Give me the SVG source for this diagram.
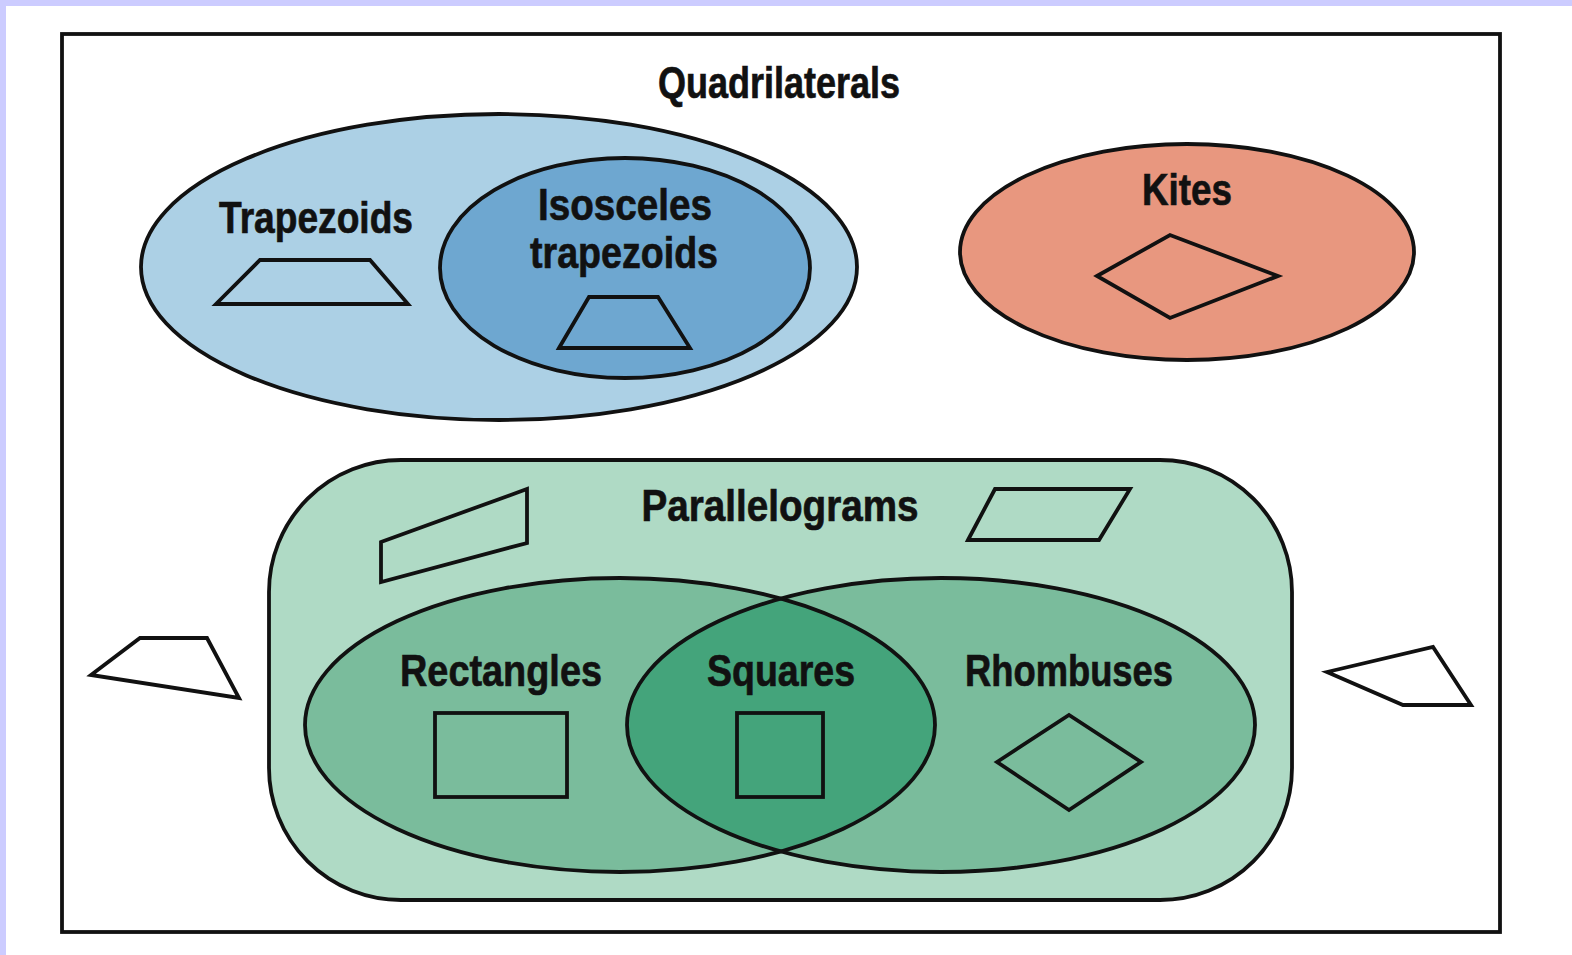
<svg xmlns="http://www.w3.org/2000/svg" width="1572" height="955" viewBox="0 0 1572 955">
<style>
.ln{stroke:#111;stroke-width:3.8;stroke-linejoin:miter}
.lbl{font-family:"Liberation Sans",Arial,sans-serif;font-weight:bold;font-size:45px;fill:#111;stroke:#111;stroke-width:0.7;text-anchor:middle}
</style>
<defs>
<clipPath id="clipR"><ellipse cx="941" cy="725" rx="314" ry="147"/></clipPath>
</defs>
<rect x="0" y="0" width="1572" height="955" fill="#ccccff"/>
<rect x="6" y="6" width="1566" height="949" fill="#ffffff"/>
<g id="quadrilaterals">
<rect x="62" y="34" width="1438" height="898" fill="#fff" class="ln"/>
<text class="lbl" x="779" y="98" textLength="242" lengthAdjust="spacingAndGlyphs">Quadrilaterals</text>
</g>
<g id="trapezoids">
<ellipse cx="499" cy="267" rx="358" ry="153" fill="#acd0e5" class="ln"/>
<text class="lbl" x="316" y="233" textLength="194" lengthAdjust="spacingAndGlyphs">Trapezoids</text>
<polygon points="216,304 260,260 370,260 408,304" fill="none" class="ln"/>
</g>
<g id="isosceles">
<ellipse cx="625" cy="268" rx="185" ry="110" fill="#6ea7d0" class="ln"/>
<text class="lbl" x="625" y="220" textLength="174" lengthAdjust="spacingAndGlyphs">Isosceles</text>
<text class="lbl" x="624" y="268" textLength="188" lengthAdjust="spacingAndGlyphs">trapezoids</text>
<polygon points="559,348 589,297 658,297 690,348" fill="none" class="ln"/>
</g>
<g id="kites">
<ellipse cx="1187" cy="252" rx="227" ry="108" fill="#e8977f" class="ln"/>
<text class="lbl" x="1187" y="205" textLength="90" lengthAdjust="spacingAndGlyphs">Kites</text>
<polygon points="1097,276 1170,235 1278,276 1170,318" fill="none" class="ln"/>
</g>
<g id="parallelograms">
<rect x="269" y="460" width="1023" height="440" rx="132" ry="132" fill="#afdac5" class="ln"/>
<text class="lbl" x="780" y="521" textLength="277" lengthAdjust="spacingAndGlyphs">Parallelograms</text>
<polygon points="381,542 527,489 527,543 381,582" fill="none" class="ln"/>
<polygon points="968,540 995,489 1130,489 1099,540" fill="none" class="ln"/>
</g>
<g id="rectangles">
<ellipse cx="620" cy="725" rx="315" ry="147" fill="#7abc9c"/>
</g>
<g id="rhombuses">
<ellipse cx="941" cy="725" rx="314" ry="147" fill="#7abc9c"/>
</g>
<g id="squares">
<ellipse cx="620" cy="725" rx="315" ry="147" fill="#44a47b" clip-path="url(#clipR)"/>
</g>
<g id="outlines">
<ellipse cx="620" cy="725" rx="315" ry="147" fill="none" class="ln"/>
<ellipse cx="941" cy="725" rx="314" ry="147" fill="none" class="ln"/>
</g>
<g id="rectangles-label">
<text class="lbl" x="501" y="686" textLength="202" lengthAdjust="spacingAndGlyphs">Rectangles</text>
<rect x="435" y="713" width="132" height="84" fill="none" class="ln"/>
</g>
<g id="squares-label">
<text class="lbl" x="781" y="686" textLength="148" lengthAdjust="spacingAndGlyphs">Squares</text>
<rect x="737" y="713" width="86" height="84" fill="none" class="ln"/>
</g>
<g id="rhombuses-label">
<text class="lbl" x="1069" y="686" textLength="208" lengthAdjust="spacingAndGlyphs">Rhombuses</text>
<polygon points="997,762 1069,715 1141,762 1069,810" fill="none" class="ln"/>
</g>
<g id="other-quads">
<polygon points="91,675 140,638 207,638 239,698" fill="none" class="ln"/>
<polygon points="1327,672 1433,647 1471,705 1403,705" fill="none" class="ln"/>
</g>
</svg>
